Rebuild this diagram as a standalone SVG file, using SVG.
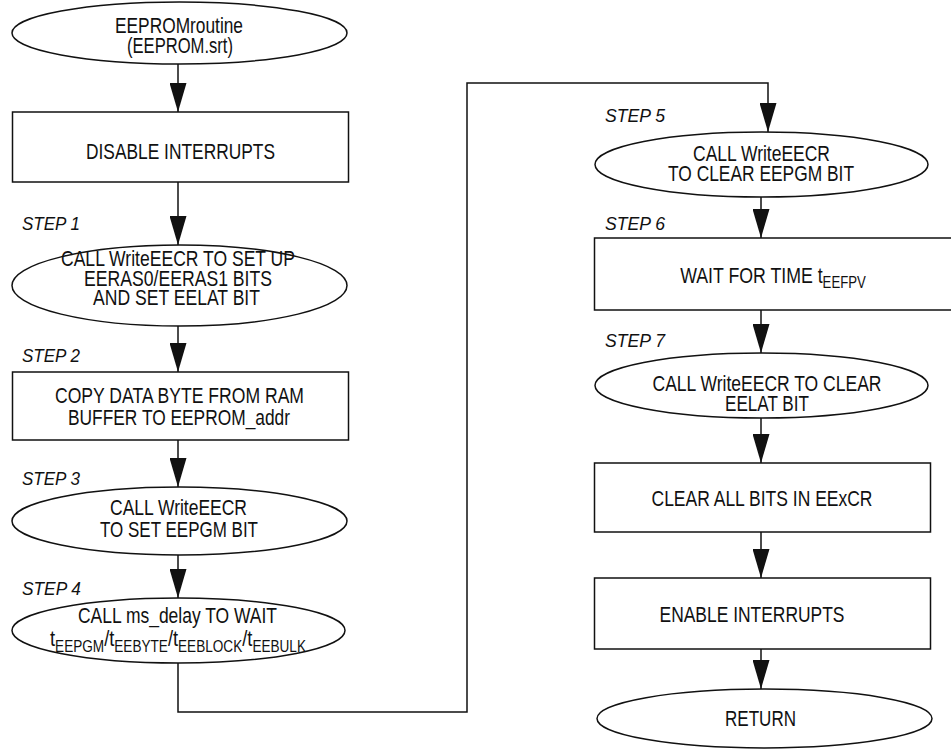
<svg xmlns="http://www.w3.org/2000/svg" width="951" height="751" viewBox="0 0 951 751">
<style>
.shape{fill:#fff;stroke:#111;stroke-width:1.5}
.t{font-family:"Liberation Sans",Arial,sans-serif;font-size:21.5px;fill:#111;text-anchor:middle}
.step{font-family:"Liberation Sans",Arial,sans-serif;font-size:19px;font-style:italic;fill:#111}
.sub{font-size:16px}
.conn{fill:none;stroke:#111;stroke-width:1.5}
</style>
<defs>
<marker id="arr" viewBox="0 0 29 17" refX="29" refY="8.5" markerWidth="29" markerHeight="17" markerUnits="userSpaceOnUse" orient="auto">
<path d="M0,0 L29,8.5 L0,17 z" fill="#111"/>
</marker>
</defs>
<rect width="951" height="751" fill="#fff"/>
<g id="connectors">
<path class="conn" d="M178,64 V112" marker-end="url(#arr)"/>
<path class="conn" d="M178,182 V245" marker-end="url(#arr)"/>
<path class="conn" d="M178,326 V372" marker-end="url(#arr)"/>
<path class="conn" d="M178,440 V487" marker-end="url(#arr)"/>
<path class="conn" d="M178,555 V598" marker-end="url(#arr)"/>
<path class="conn" d="M178,663 V712 H467 V83 H768 V132" marker-end="url(#arr)"/>
<path class="conn" d="M761,197 V238" marker-end="url(#arr)"/>
<path class="conn" d="M761,310 V353" marker-end="url(#arr)"/>
<path class="conn" d="M761,418 V463" marker-end="url(#arr)"/>
<path class="conn" d="M761,532 V578" marker-end="url(#arr)"/>
<path class="conn" d="M761,649 V689" marker-end="url(#arr)"/>
</g>
<g id="start">
<ellipse class="shape" cx="179.5" cy="33" rx="167.5" ry="31"/>
<text class="t" x="179" y="33" textLength="128" lengthAdjust="spacingAndGlyphs">EEPROMroutine</text>
<text class="t" x="180" y="53" textLength="106" lengthAdjust="spacingAndGlyphs">(EEPROM.srt)</text>
</g>
<g id="disable">
<rect class="shape" x="12.5" y="112" width="336" height="70"/>
<text class="t" x="180.5" y="159" textLength="189" lengthAdjust="spacingAndGlyphs">DISABLE INTERRUPTS</text>
</g>
<g id="step1">
<text class="step" x="22" y="230" textLength="58" lengthAdjust="spacingAndGlyphs">STEP 1</text>
<ellipse class="shape" cx="179.5" cy="285.5" rx="167.5" ry="40.5"/>
<text class="t" x="178" y="265.5" textLength="234" lengthAdjust="spacingAndGlyphs">CALL WriteEECR TO SET UP</text>
<text class="t" x="178" y="285.5" textLength="188" lengthAdjust="spacingAndGlyphs">EERAS0/EERAS1 BITS</text>
<text class="t" x="176.5" y="305" textLength="167" lengthAdjust="spacingAndGlyphs">AND SET EELAT BIT</text>
</g>
<g id="step2">
<text class="step" x="22" y="362" textLength="58" lengthAdjust="spacingAndGlyphs">STEP 2</text>
<rect class="shape" x="12.5" y="372" width="336" height="68"/>
<text class="t" x="179.5" y="403" textLength="249" lengthAdjust="spacingAndGlyphs">COPY DATA BYTE FROM RAM</text>
<text class="t" x="179" y="425" textLength="222" lengthAdjust="spacingAndGlyphs">BUFFER TO EEPROM_addr</text>
</g>
<g id="step3">
<text class="step" x="22" y="485" textLength="58" lengthAdjust="spacingAndGlyphs">STEP 3</text>
<ellipse class="shape" cx="179.5" cy="521" rx="167.5" ry="34"/>
<text class="t" x="178.5" y="515" textLength="137" lengthAdjust="spacingAndGlyphs">CALL WriteEECR</text>
<text class="t" x="179" y="536.5" textLength="158" lengthAdjust="spacingAndGlyphs">TO SET EEPGM BIT</text>
</g>
<g id="step4">
<text class="step" x="22" y="595" textLength="59" lengthAdjust="spacingAndGlyphs">STEP 4</text>
<ellipse class="shape" cx="178.5" cy="630.5" rx="166.5" ry="32.5"/>
<text class="t" x="177.5" y="623" textLength="199" lengthAdjust="spacingAndGlyphs">CALL ms_delay TO WAIT</text>
<text class="t" x="178" y="646" transform="matrix(0.85,0,0,1,26.7,0)">t<tspan class="sub" dy="6">EEPGM</tspan><tspan dy="-6">/t</tspan><tspan class="sub" dy="6">EEBYTE</tspan><tspan dy="-6">/t</tspan><tspan class="sub" dy="6">EEBLOCK</tspan><tspan dy="-6">/t</tspan><tspan class="sub" dy="6">EEBULK</tspan></text>
</g>
<g id="step5">
<text class="step" x="605" y="122" textLength="60" lengthAdjust="spacingAndGlyphs">STEP 5</text>
<ellipse class="shape" cx="761.5" cy="164.5" rx="166.5" ry="32.5"/>
<text class="t" x="761.5" y="161" textLength="137" lengthAdjust="spacingAndGlyphs">CALL WriteEECR</text>
<text class="t" x="761" y="181" textLength="186" lengthAdjust="spacingAndGlyphs">TO CLEAR EEPGM BIT</text>
</g>
<g id="step6">
<text class="step" x="605" y="230" textLength="60" lengthAdjust="spacingAndGlyphs">STEP 6</text>
<rect class="shape" x="594.5" y="238" width="370" height="72"/>
<text class="t" x="773" y="283" transform="matrix(0.825,0,0,1,135.3,0)">WAIT FOR TIME t<tspan class="sub" dy="5">EEFPV</tspan></text>
</g>
<g id="step7">
<text class="step" x="605" y="347" textLength="60" lengthAdjust="spacingAndGlyphs">STEP 7</text>
<ellipse class="shape" cx="761.5" cy="385.5" rx="166.5" ry="32.5"/>
<text class="t" x="767" y="391" textLength="229" lengthAdjust="spacingAndGlyphs">CALL WriteEECR TO CLEAR</text>
<text class="t" x="767" y="411" textLength="84" lengthAdjust="spacingAndGlyphs">EELAT BIT</text>
</g>
<g id="clear">
<rect class="shape" x="594.5" y="463" width="336" height="69"/>
<text class="t" x="762" y="506" textLength="221" lengthAdjust="spacingAndGlyphs">CLEAR ALL BITS IN EExCR</text>
</g>
<g id="enable">
<rect class="shape" x="594.5" y="578" width="336" height="71"/>
<text class="t" x="752" y="622" textLength="185" lengthAdjust="spacingAndGlyphs">ENABLE INTERRUPTS</text>
</g>
<g id="return">
<ellipse class="shape" cx="764.5" cy="718.5" rx="167.5" ry="29.5"/>
<text class="t" x="760.5" y="726" textLength="71" lengthAdjust="spacingAndGlyphs">RETURN</text>
</g>
</svg>
